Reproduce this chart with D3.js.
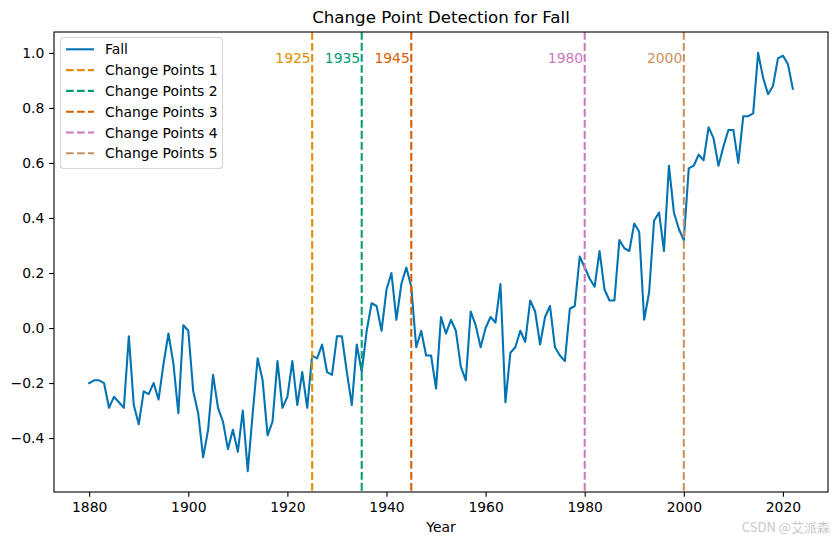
<!DOCTYPE html>
<html><head><meta charset="utf-8">
<script src="https://cdn.jsdelivr.net/npm/d3@7"></script>
<style>
body{margin:0;background:#fff;}
svg{display:block;font-family:"DejaVu Sans",sans-serif;}
</style></head>
<body><svg id="chart" width="838" height="545"></svg>
<script>
const startYear = 1880;
const values = [
-0.20,-0.19,-0.19,-0.20,-0.29,-0.25,-0.27,-0.29,-0.03,-0.28,
-0.35,-0.23,-0.24,-0.20,-0.26,-0.13,-0.02,-0.13,-0.31,0.01,
-0.01,-0.23,-0.31,-0.47,-0.37,-0.17,-0.29,-0.34,-0.44,-0.37,
-0.45,-0.30,-0.52,-0.31,-0.11,-0.19,-0.39,-0.34,-0.12,-0.29,
-0.25,-0.12,-0.28,-0.16,-0.29,-0.10,-0.11,-0.06,-0.16,-0.17,
-0.03,-0.03,-0.16,-0.28,-0.06,-0.16,-0.01,0.09,0.08,-0.01,
0.14,0.20,0.03,0.16,0.22,0.15,-0.07,-0.01,-0.10,-0.10,
-0.22,0.04,-0.02,0.03,-0.01,-0.14,-0.19,0.06,0.01,-0.07,
0.00,0.04,0.02,0.16,-0.27,-0.09,-0.07,-0.01,-0.05,0.10,
0.06,-0.06,0.04,0.08,-0.07,-0.10,-0.12,0.07,0.08,0.26,
0.22,0.18,0.15,0.28,0.14,0.10,0.10,0.32,0.29,0.28,
0.38,0.35,0.03,0.13,0.39,0.42,0.28,0.59,0.42,0.36,
0.32,0.58,0.59,0.63,0.61,0.73,0.69,0.59,0.66,0.72,
0.72,0.60,0.77,0.77,0.78,1.00,0.91,0.85,0.88,0.98,
0.99,0.96,0.87];
const years = values.map((v,i)=>startYear+i);
const changeYears = [1925,1935,1945,1980,2000];
const changeLabels = ["Change Points 1","Change Points 2","Change Points 3","Change Points 4","Change Points 5"];
const seriesName = "Fall";
const xTicks = [1880,1900,1920,1940,1960,1980,2000,2020];
const yTicks = [-0.4,-0.2,0.0,0.2,0.4,0.6,0.8,1.0];
const lineColor = "#0173b2";
const cpColors = ["#de8f05","#029e73","#d55e00","#cc78bc","#ca9161"];

const svg = d3.select("#chart");
const L=54, R=828, T=32, B=492;
const xmin=d3.min(years), xmax=d3.max(years), xr=xmax-xmin;
const ymin=d3.min(values), ymax=d3.max(values), yr=ymax-ymin;
const x = d3.scaleLinear().domain([xmin-0.05*xr, xmax+0.05*xr]).range([L,R]);
const y = d3.scaleLinear().domain([ymin-0.05*yr, ymax+0.05*yr]).range([B,T]);
const fs = 13.9;
const lw = 2.08;
const dash = "7.7,3.3";

const defs = svg.append("defs");
defs.append("clipPath").attr("id","clip").append("rect").attr("x",L).attr("y",T).attr("width",R-L).attr("height",B-T);

const g = svg.append("g").attr("clip-path","url(#clip)");
g.append("path").datum(values)
 .attr("d", d3.line().x((d,i)=>x(years[i])).y(d=>y(d)))
 .attr("fill","none").attr("stroke",lineColor).attr("stroke-width",lw).attr("stroke-linejoin","round").attr("stroke-linecap","square");

changeYears.forEach((cy,i)=>{
  g.append("line").attr("x1",x(cy)).attr("x2",x(cy)).attr("y1",T).attr("y2",B)
   .attr("stroke",cpColors[i]).attr("stroke-width",lw).attr("stroke-dasharray",dash);
  svg.append("text").attr("x",x(cy)-1.5).attr("y",y(ymax)+10)
   .attr("text-anchor","end").attr("fill",cpColors[i]).attr("font-size",fs).text(cy);
});

// axes
const xAxis = d3.axisBottom(x).tickValues(xTicks).tickFormat(d3.format("d")).tickSize(4.86).tickPadding(4.86);
const gx = svg.append("g").attr("transform",`translate(0,${B})`).call(xAxis);
const yAxis = d3.axisLeft(y).tickValues(yTicks).tickFormat(d=>d3.format(".1f")(d).replace("-","\u2212")).tickSize(4.86).tickPadding(4.86);
const gy = svg.append("g").attr("transform",`translate(${L},0)`).call(yAxis);
[gx,gy].forEach(a=>{
  a.select(".domain").remove();
  a.selectAll("text").attr("font-size",fs).attr("font-family","DejaVu Sans").attr("fill","#000");
  a.selectAll("line").attr("stroke","#000").attr("stroke-width",1.1);
});
svg.append("rect").attr("x",L).attr("y",T).attr("width",R-L).attr("height",B-T)
 .attr("fill","none").attr("stroke","#000").attr("stroke-width",1.1);

svg.append("text").attr("x",(L+R)/2).attr("y",22.7).attr("text-anchor","middle").attr("font-size",16.67).text("Change Point Detection for "+seriesName);
svg.append("text").attr("x",(L+R)/2).attr("y",532).attr("text-anchor","middle").attr("font-size",fs).text("Year");

// legend
const lg = svg.append("g");
lg.append("rect").attr("x",60.5).attr("y",37.5).attr("width",162).attr("height",131).attr("rx",3)
 .attr("fill","#fff").attr("fill-opacity",0.8).attr("stroke","#d6d6d6").attr("stroke-width",1.1);
const items = [{label:seriesName,color:lineColor,dash:null}].concat(changeLabels.map((l,i)=>({label:l,color:cpColors[i],dash:dash})));
items.forEach((it,i)=>{
  const cy = 49.3 + i*20.8;
  lg.append("line").attr("x1",66).attr("x2",94).attr("y1",cy).attr("y2",cy)
   .attr("stroke",it.color).attr("stroke-width",lw).attr("stroke-dasharray",it.dash);
  lg.append("text").attr("x",105).attr("y",cy).attr("dy","0.36em").attr("font-size",fs).text(it.label);
});

// watermark
svg.append("text").attr("x",830).attr("y",532).attr("text-anchor","end").attr("font-size",13)
 .attr("fill","#c8c8c8").attr("font-family","'Noto Sans CJK SC',sans-serif").text("CSDN @艾派森");
</script></body></html>
